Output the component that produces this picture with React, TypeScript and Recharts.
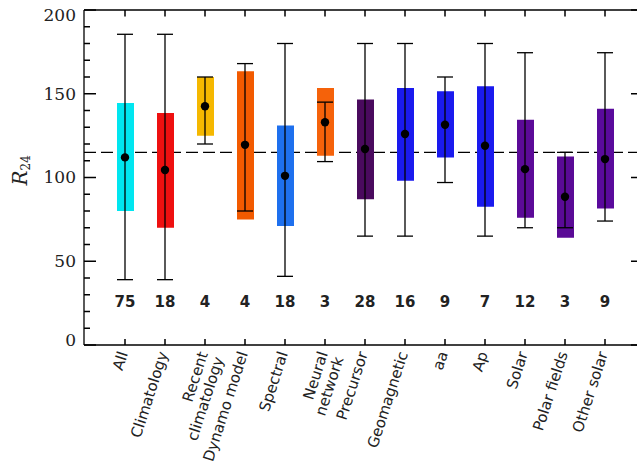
import { Bar, Cell, ComposedChart, ErrorBar, Line, ReferenceLine, Scatter, XAxis, YAxis } from "recharts"

// method groups, in plot order (each label line separated by \n)
const categories = [
  "All", "Climatology", "Recent\nclimatology", "Dynamo model", "Spectral",
  "Neural\nnetwork", "Precursor", "Geomagnetic", "aa", "Ap", "Solar",
  "Polar fields", "Other solar",
]
const counts = [75, 18, 4, 4, 18, 3, 28, 16, 9, 7, 12, 3, 9]
const medians = [112, 104.5, 142.5, 119.5, 101, 133, 117, 126, 131.5, 119, 105, 88.5, 111]
const boxLow = [80, 70, 125, 75, 71, 113, 87, 98, 112, 82.5, 76, 64, 81.5]
const boxHigh = [144.5, 138.5, 160, 163.5, 131, 153.5, 146.5, 153.5, 151.5, 154.5, 134.5, 112.5, 141]
const whiskerLow = [39, 39, 120, 80, 41, 109.5, 65, 65, 97, 65, 70, 70, 74]
const whiskerHigh = [185.5, 185.5, 160, 168, 180, 145, 180, 180, 160, 180, 174.5, 115, 174.5]
const consensus = 115
const yTicks = [0, 10, 20, 30, 40, 50, 60, 70, 80, 90, 100, 110, 120, 130, 140, 150, 160, 170, 180, 190, 200]

const colors = [
  "#00E6F0", "#EE1010", "#F5B800", "#F25A00", "#1E70EE", "#F5620A", "#4A0A5E",
  "#1A1AEE", "#1A1AEE", "#1A1AEE", "#5C0A98", "#5A0A96", "#5A0A9C",
]

const X_MIN = -1.025
const X_MAX = 12.95
const Y_MAX = 200
const COUNT_LEVEL = 26

const rows = categories.map((name, i) => ({
  x: i,
  name,
  count: counts[i],
  median: medians[i],
  box: [boxLow[i], boxHigh[i]],
  err: [medians[i] - whiskerLow[i], whiskerHigh[i] - medians[i]],
  countAt: COUNT_LEVEL,
}))

const consensusLine = [
  { x: X_MIN, c: consensus },
  { x: X_MAX, c: consensus },
]

const xIdx = categories.map((_, i) => i)

// tick anchor points on the right and top frame edges
const rightTicks = yTicks.map((v) => ({ x: X_MAX, v }))
const topTicks = xIdx.map((i) => ({ x: i, v: Y_MAX }))

const hTick = (dir: number) => (p: any) => {
  const len = p.payload.v % 50 === 0 ? 12 : 6
  const x0 = dir > 0 ? p.cx : p.cx - len
  return <rect x={x0} y={p.cy - 0.75} width={len} height={1.5} fill="#000" />
}
const vTick = (p: any) => <rect x={p.cx - 0.75} y={p.cy} width={1.5} height={6.5} fill="#000" />

const renderLeftTick = (props: any) => {
  const x = Number(props.x)
  const y = Number(props.y)
  const v = props.payload.value
  const major = v % 50 === 0
  let shift = 0
  if (v === 200) shift = 5
  if (v === 0) shift = -5
  return (
    <g>
      <rect x={x + 8} y={y - 0.75} width={major ? 12 : 6} height={1.5} fill="#000" />
      {major && (
        <text x={x} y={y + shift} dy="0.35em" textAnchor="end" fontFamily="DejaVu Serif" fontSize={17} fill="#222">
          {v}
        </text>
      )}
    </g>
  )
}

const renderBottomTick = (props: any) => {
  const x = Number(props.x)
  const y = Number(props.y)
  const lines = categories[props.payload.value].split("\n")
  return (
    <g>
      <rect x={x - 0.75} y={y - 6} width={1.5} height={6} fill="#000" />
      <text
        transform={`translate(${x - 2},${y + 7}) rotate(-72)`}
        textAnchor="end"
        fontFamily="DejaVu Sans"
        fontSize={15}
        fill="#222"
      >
        {lines.map((l: string, k: number) => (
          <tspan key={k} x={0} dy={k === 0 ? "0.35em" : "1.1em"}>
            {l}
          </tspan>
        ))}
      </text>
    </g>
  )
}

const YLabel = (props: any) => {
  const { viewBox } = props
  const cx = viewBox.x + 27
  const cy = viewBox.y + viewBox.height / 2 + 8
  return (
    <text transform={`translate(${cx},${cy}) rotate(-90)`} fontFamily="DejaVu Serif" fill="#222">
      <tspan fontSize={20} fontStyle="italic">R</tspan>
      <tspan fontSize={12} dy={3}>24</tspan>
    </text>
  )
}

const Dot = (props: any) => <circle cx={props.cx} cy={props.cy} r={4.2} fill="#000" />

const CountText = (props: any) => (
  <text x={props.cx} y={props.cy} dy="0.35em" textAnchor="middle" fontFamily="DejaVu Sans" fontWeight="bold" fontSize={15} fill="#222">
    {props.payload.count}
  </text>
)

const frame = { stroke: "#000", strokeWidth: 1.3 }

export default function App() {
  return (
    <div style={{ position: "absolute", left: 0, top: 0, width: 637, height: 471, overflow: "hidden", background: "#fff" }}>
      <ComposedChart width={665} height={471} data={rows} margin={{ top: 10, right: 22, bottom: 0, left: 0 }}>
        <XAxis
          dataKey="x"
          type="number"
          domain={[X_MIN, X_MAX]}
          ticks={xIdx}
          interval={0}
          height={126}
          tickSize={0}
          tickMargin={0}
          tickLine={false}
          axisLine={frame}
          tick={renderBottomTick}
        />
        <YAxis
          type="number"
          domain={[0, Y_MAX]}
          ticks={yTicks}
          interval={0}
          width={84}
          tickSize={0}
          tickMargin={8}
          tickLine={false}
          axisLine={frame}
          tick={renderLeftTick}
          label={{ content: <YLabel /> }}
        />
        <ReferenceLine y={Y_MAX} {...frame} />
        <ReferenceLine x={X_MAX} {...frame} />
        <Line
          data={consensusLine}
          dataKey="c"
          stroke="#000"
          strokeWidth={1.3}
          strokeDasharray="12 5"
          dot={false}
          activeDot={false}
          zIndex={200}
          isAnimationActive={false}
        />
        <Bar dataKey="box" barSize={17} isAnimationActive={false}>
          {rows.map((_, i) => (
            <Cell key={i} fill={colors[i]} />
          ))}
        </Bar>
        <Scatter dataKey="median" shape={<Dot />} isAnimationActive={false}>
          <ErrorBar dataKey="err" direction="y" width={8} stroke="#000" strokeWidth={1.3} isAnimationActive={false} />
        </Scatter>
        <Scatter dataKey="countAt" shape={<CountText />} isAnimationActive={false} />
        <Scatter data={rightTicks} dataKey="v" shape={hTick(-1)} isAnimationActive={false} />
        <Scatter data={topTicks} dataKey="v" shape={vTick} isAnimationActive={false} />
      </ComposedChart>
    </div>
  )
}
